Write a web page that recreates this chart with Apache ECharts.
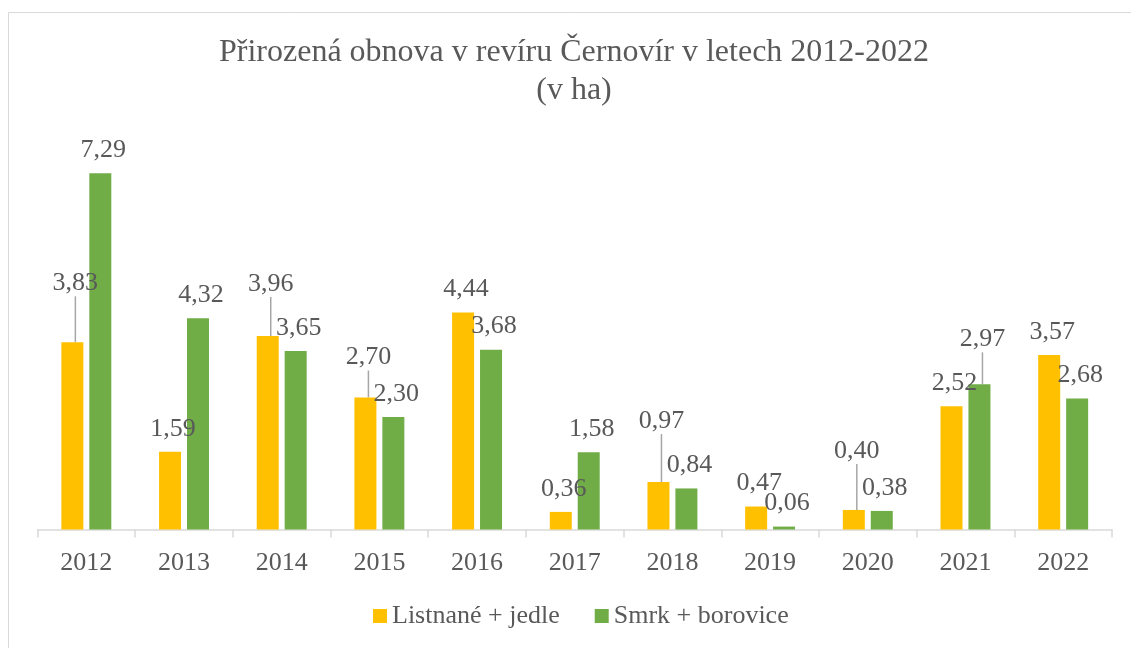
<!DOCTYPE html>
<html>
<head>
<meta charset="utf-8">
<script src="https://cdn.jsdelivr.net/npm/echarts@6/dist/echarts.min.js"></script>
<style>
  html, body { margin: 0; padding: 0; background: #fff; }
  #chart { width: 1131px; height: 648px; }
</style>
</head>
<body>
<div id="chart"></div>
<script>
const years = ["2012", "2013", "2014", "2015", "2016", "2017", "2018", "2019", "2020", "2021", "2022"];
const listnane = [3.83, 1.59, 3.96, 2.70, 4.44, 0.36, 0.97, 0.47, 0.40, 2.52, 3.57];
const smrk = [7.29, 4.32, 3.65, 2.30, 3.68, 1.58, 0.84, 0.06, 0.38, 2.97, 2.68];

// labels that were dragged up in the original, with a leader line
const listnaneLift = [-36, 0, -29, -17, 0, 0, -38, 0, -36, 0, 0];
const smrkLift = [0, 0, 0, 0, 0, 0, 0, 0, 0, -22, 0];

const font = "'Liberation Serif', 'DejaVu Serif', serif";
const textColor = "#595959";
const fmt = v => v.toFixed(2).replace(".", ",");

const toItems = (values, lifts) =>
  values.map((v, i) => ({
    value: v,
    labelLine: { show: lifts[i] !== 0 }
  }));

const barSeries = (name, color, values, lifts) => ({
  name,
  type: "bar",
  barWidth: 22,
  barGap: "27%",
  itemStyle: { color },
  data: toItems(values, lifts),
  label: {
    show: true,
    position: "top",
    distance: 10,
    fontFamily: font,
    fontSize: 26,
    color: textColor,
    formatter: p => fmt(p.value)
  },
  labelLine: {
    show: false,
    lineStyle: { color: "#A6A6A6", width: 1.5 }
  },
  labelLayout: p => ({ dx: 3, dy: lifts[p.dataIndex] })
});

const chart = echarts.init(document.getElementById("chart"));
chart.setOption({
  animation: false,
  backgroundColor: "#fff",
  textStyle: { fontFamily: font },
  graphic: [{
    type: "rect",
    shape: { x: 8.5, y: 12.5, width: 1200, height: 700 },
    style: { fill: "none", stroke: "#D9D9D9", lineWidth: 1 },
    silent: true
  }],
  title: {
    text: "Přirozená obnova v revíru Černovír v letech 2012-2022\n(v ha)",
    left: 569,
    top: 29,
    textAlign: "center",
    textStyle: {
      fontFamily: font,
      fontSize: 32,
      fontWeight: "normal",
      color: textColor,
      lineHeight: 38
    }
  },
  legend: {
    left: 368,
    top: 598,
    icon: "rect",
    itemWidth: 14,
    itemHeight: 14,
    itemGap: 35,
    textStyle: { fontFamily: font, fontSize: 26, color: textColor },
    data: ["Listnané + jedle", "Smrk + borovice"]
  },
  grid: { left: 37.5, right: 19, top: 138.5, bottom: 118.5, containLabel: false },
  xAxis: {
    type: "category",
    data: years,
    axisLine: { lineStyle: { color: "#D9D9D9", width: 1.5 } },
    axisTick: { show: true, length: 8, lineStyle: { color: "#D9D9D9", width: 1.5 } },
    axisLabel: { margin: 21, fontFamily: font, fontSize: 26, color: textColor }
  },
  yAxis: {
    type: "value",
    min: 0,
    max: 8,
    show: false,
    splitLine: { show: false }
  },
  series: [
    barSeries("Listnané + jedle", "#FFC000", listnane, listnaneLift),
    barSeries("Smrk + borovice", "#70AD47", smrk, smrkLift)
  ]
});
</script>
</body>
</html>
